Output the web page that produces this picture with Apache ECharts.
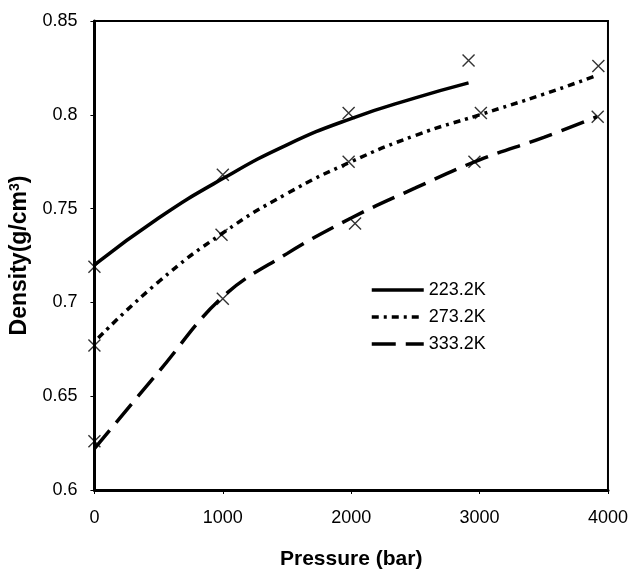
<!DOCTYPE html>
<html>
<head>
<meta charset="utf-8">
<script src="https://cdn.jsdelivr.net/npm/echarts@6/dist/echarts.min.js"></script>
<style>
  html, body { margin: 0; padding: 0; background: #fff; }
  #main { width: 631px; height: 575px; }
</style>
</head>
<body>
<div id="main"></div>
<script>
// fitted curves
var line223 = [[0, 0.720], [500, 0.745], [1000, 0.766], [1500, 0.784], [2000, 0.798], [2500, 0.809], [2914, 0.817]];
var line273 = [[30, 0.681], [500, 0.711], [1000, 0.737], [1500, 0.758], [2000, 0.775], [2500, 0.789], [3000, 0.800], [3500, 0.811], [3914, 0.821]];
var line333 = [[0, 0.622], [500, 0.663], [1000, 0.703], [1500, 0.726], [2000, 0.745], [2500, 0.761], [3000, 0.776], [3500, 0.788], [3914, 0.799]];

// measured points (x marks)
var pts223 = [[0, 0.719], [1000, 0.768], [1980, 0.801], [2914, 0.829]];
var pts273 = [[0, 0.677], [990, 0.736], [1980, 0.775], [3010, 0.801], [3925, 0.826]];
var pts333 = [[0, 0.626], [1000, 0.702], [2030, 0.742], [2960, 0.775], [3920, 0.799]];

var seriesNames = ['223.2K', '273.2K', '333.2K'];

var chart = echarts.init(document.getElementById('main'));

var cross = 'path://M0,0L10,10M10,0L0,10';
function marks(d) {
  return {
    type: 'scatter',
    data: d,
    symbol: cross,
    symbolSize: 12,
    itemStyle: { color: 'transparent', borderColor: '#000', borderWidth: 1.4 },
    silent: true,
    z: 3
  };
}
function curve(name, d, dash, smooth) {
  return {
    name: name,
    type: 'line',
    data: d,
    smooth: smooth,
    symbol: 'none',
    lineStyle: { color: '#000', width: 3.5, type: dash },
    itemStyle: { color: '#000' },
    z: 2
  };
}

chart.setOption({
  animation: false,
  textStyle: { fontFamily: 'Liberation Sans, Arial, sans-serif' },
  grid: {
    left: 93, right: 23, top: 21, bottom: 83,
    show: true, borderColor: '#000', borderWidth: 2
  },
  legend: {
    data: seriesNames,
    orient: 'vertical',
    left: 370, top: 281,
    itemWidth: 52, itemHeight: 10, itemGap: 9, padding: 0,
    itemStyle: { color: 'transparent', borderWidth: 0, opacity: 0 },
    lineStyle: { width: 3.5 },
    textStyle: { fontSize: 18, color: '#000', padding: [0, 0, 0, 0] }
  },
  xAxis: {
    type: 'value',
    min: 0, max: 4000, interval: 1000,
    name: 'Pressure (bar)',
    nameLocation: 'middle',
    nameGap: 59,
    nameTextStyle: { fontSize: 21, fontWeight: 'bold', color: '#000' },
    axisLine: { show: true, lineStyle: { color: '#000', width: 3 } },
    axisTick: { show: true, length: 4, lineStyle: { color: '#000' } },
    axisLabel: { fontSize: 18, color: '#000', margin: 19, formatter: function (v) { return String(v); } },
    splitLine: { show: false }
  },
  yAxis: {
    type: 'value',
    min: 0.6, max: 0.85, interval: 0.05,
    name: 'Density(g/cm{sup|3})',
    nameLocation: 'middle',
    nameGap: 51,
    nameTextStyle: {
      fontSize: 23, fontWeight: 'bold', color: '#000',
      rich: { sup: { fontSize: 14, fontWeight: 'bold', verticalAlign: 'top', padding: [0, 0, 10, 0] } }
    },
    axisLine: { show: true, lineStyle: { color: '#000', width: 3 } },
    axisTick: { show: true, length: 4, lineStyle: { color: '#000' } },
    axisLabel: { fontSize: 18, color: '#000', margin: 17 },
    splitLine: { show: false }
  },
  series: [
    curve(seriesNames[0], line223, 'solid', true),
    curve(seriesNames[1], line273, [7, 5, 3, 5], true),
    curve(seriesNames[2], line333, [24, 10], 0.4),
    marks(pts223),
    marks(pts273),
    marks(pts333)
  ]
});
</script>
</body>
</html>
